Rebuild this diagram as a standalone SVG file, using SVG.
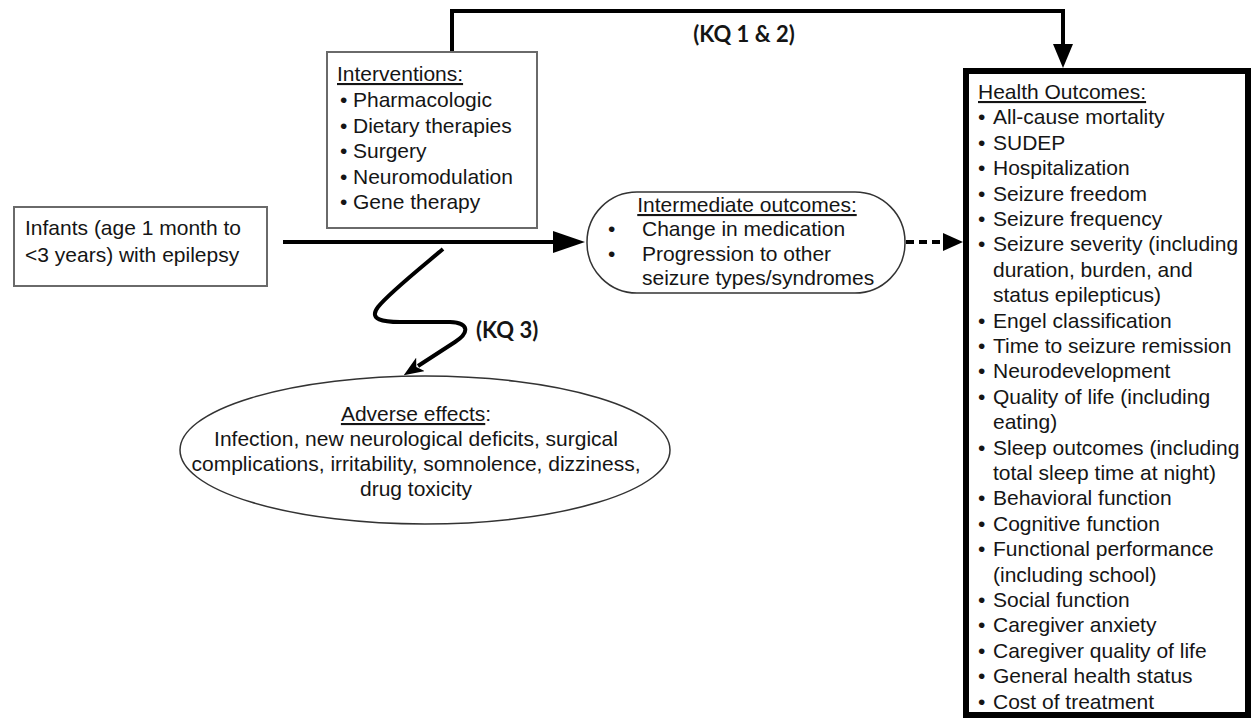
<svg xmlns="http://www.w3.org/2000/svg" width="1254" height="721" viewBox="0 0 1254 721">
<style>
.t{font-family:"Liberation Sans",Arial,sans-serif;font-size:21px;fill:#151515}
.u{text-decoration:underline}
.kq{font-family:Lato,"Open Sans",sans-serif;font-weight:bold;font-size:22px;fill:#151515}
.box{fill:#fff;stroke:#6a6a6a;stroke-width:2}
.thin{fill:#fff;stroke:#333;stroke-width:1.5}
.ln{fill:none;stroke:#000;stroke-width:4}
</style>
<defs>
<marker id="aBig" markerUnits="userSpaceOnUse" viewBox="0 0 32 22" refX="4" refY="11" markerWidth="32" markerHeight="22" orient="auto"><path d="M0,0 L32,11 L0,22 z" fill="#000"/></marker>
<marker id="aMed" markerUnits="userSpaceOnUse" viewBox="0 0 24 20" refX="4" refY="10" markerWidth="24" markerHeight="20" orient="auto"><path d="M0,0 L24,10 L0,20 z" fill="#000"/></marker>
<marker id="aDash" markerUnits="userSpaceOnUse" viewBox="0 0 20 18" refX="2" refY="9" markerWidth="20" markerHeight="18" orient="auto"><path d="M0,0 L20,9 L0,18 z" fill="#000"/></marker>
<marker id="aSm" markerUnits="userSpaceOnUse" viewBox="0 0 20 16" refX="3" refY="8" markerWidth="20" markerHeight="16" orient="auto"><path d="M0,0 L20,8 L0,16 L5,8 z" fill="#000"/></marker>
</defs>
<rect width="1254" height="721" fill="#fff"/>

<g id="connectors">
<path class="ln" d="M452,52 V11 H1063 V48" marker-end="url(#aMed)"/>
<path class="ln" d="M283,242 H557" marker-end="url(#aBig)"/>
<path class="ln" d="M906,242 H945" stroke-dasharray="8,5" marker-end="url(#aDash)"/>
<path class="ln" stroke-width="5" d="M443,249 C418,270 388,294 378,307 C368,320 384,322 400,322 L450,322 C470,323 469,333 455,342 L418,366" marker-end="url(#aSm)"/>
</g>

<g id="kq12"><text class="kq" x="744" y="42" text-anchor="middle">(KQ 1 &amp; 2)</text></g>
<g id="kq3"><text class="kq" x="476" y="338">(KQ 3)</text></g>

<g id="infants">
<rect class="box" x="14" y="207" width="253" height="79"/>
<text class="t" x="25" y="235">Infants (age  1 month to</text>
<text class="t" x="25" y="262">&lt;3 years) with epilepsy</text>
</g>

<g id="interventions">
<rect class="box" x="327" y="52" width="210" height="176"/>
<text class="t u" x="337" y="81">Interventions:</text>
<text class="t" x="340" y="107">•</text><text class="t" x="353" y="107">Pharmacologic</text>
<text class="t" x="340" y="132.5">•</text><text class="t" x="353" y="132.5">Dietary therapies</text>
<text class="t" x="340" y="158">•</text><text class="t" x="353" y="158">Surgery</text>
<text class="t" x="340" y="183.5">•</text><text class="t" x="353" y="183.5">Neuromodulation</text>
<text class="t" x="340" y="209">•</text><text class="t" x="353" y="209">Gene therapy</text>
</g>

<g id="intermediate">
<rect class="thin" x="587" y="192" width="318" height="101" rx="50" ry="50"/>
<text class="t u" x="747" y="212" text-anchor="middle">Intermediate outcomes:</text>
<text class="t" x="608" y="236">•</text><text class="t" x="642" y="236">Change in medication</text>
<text class="t" x="608" y="261">•</text><text class="t" x="642" y="261">Progression to other</text>
<text class="t" x="642" y="285">seizure types/syndromes</text>
</g>

<g id="adverse">
<ellipse class="thin" cx="425" cy="450" rx="245" ry="74"/>
<text class="t" x="416" y="421" text-anchor="middle"><tspan class="u">Adverse effects</tspan>:</text>
<text class="t" x="416" y="446" text-anchor="middle">Infection, new neurological deficits, surgical</text>
<text class="t" x="416" y="471" text-anchor="middle">complications, irritability, somnolence, dizziness,</text>
<text class="t" x="416" y="496" text-anchor="middle">drug toxicity</text>
</g>

<g id="health">
<rect x="966" y="71" width="282" height="644" fill="#fff" stroke="#000" stroke-width="6"/>
<text class="t u" x="978" y="99">Health Outcomes:</text>
<g class="t">
<text x="978" y="124.4">•</text><text x="993" y="124.4">All-cause mortality</text>
<text x="978" y="149.8">•</text><text x="993" y="149.8">SUDEP</text>
<text x="978" y="175.2">•</text><text x="993" y="175.2">Hospitalization</text>
<text x="978" y="200.6">•</text><text x="993" y="200.6">Seizure freedom</text>
<text x="978" y="226">•</text><text x="993" y="226">Seizure frequency</text>
<text x="978" y="251.4">•</text><text x="993" y="251.4">Seizure severity (including</text>
<text x="993" y="276.8">duration, burden, and</text>
<text x="993" y="302.2">status epilepticus)</text>
<text x="978" y="327.6">•</text><text x="993" y="327.6">Engel classification</text>
<text x="978" y="353">•</text><text x="993" y="353">Time to seizure remission</text>
<text x="978" y="378.4">•</text><text x="993" y="378.4">Neurodevelopment</text>
<text x="978" y="403.8">•</text><text x="993" y="403.8">Quality of life (including</text>
<text x="993" y="429.2">eating)</text>
<text x="978" y="454.6">•</text><text x="993" y="454.6">Sleep outcomes (including</text>
<text x="993" y="480">total sleep time at night)</text>
<text x="978" y="505.4">•</text><text x="993" y="505.4">Behavioral function</text>
<text x="978" y="530.8">•</text><text x="993" y="530.8">Cognitive function</text>
<text x="978" y="556.2">•</text><text x="993" y="556.2">Functional performance</text>
<text x="993" y="581.6">(including school)</text>
<text x="978" y="607">•</text><text x="993" y="607">Social function</text>
<text x="978" y="632.4">•</text><text x="993" y="632.4">Caregiver anxiety</text>
<text x="978" y="657.8">•</text><text x="993" y="657.8">Caregiver quality of life</text>
<text x="978" y="683.2">•</text><text x="993" y="683.2">General health status</text>
<text x="978" y="708.6">•</text><text x="993" y="708.6">Cost of treatment</text>
</g>
</g>
</svg>
